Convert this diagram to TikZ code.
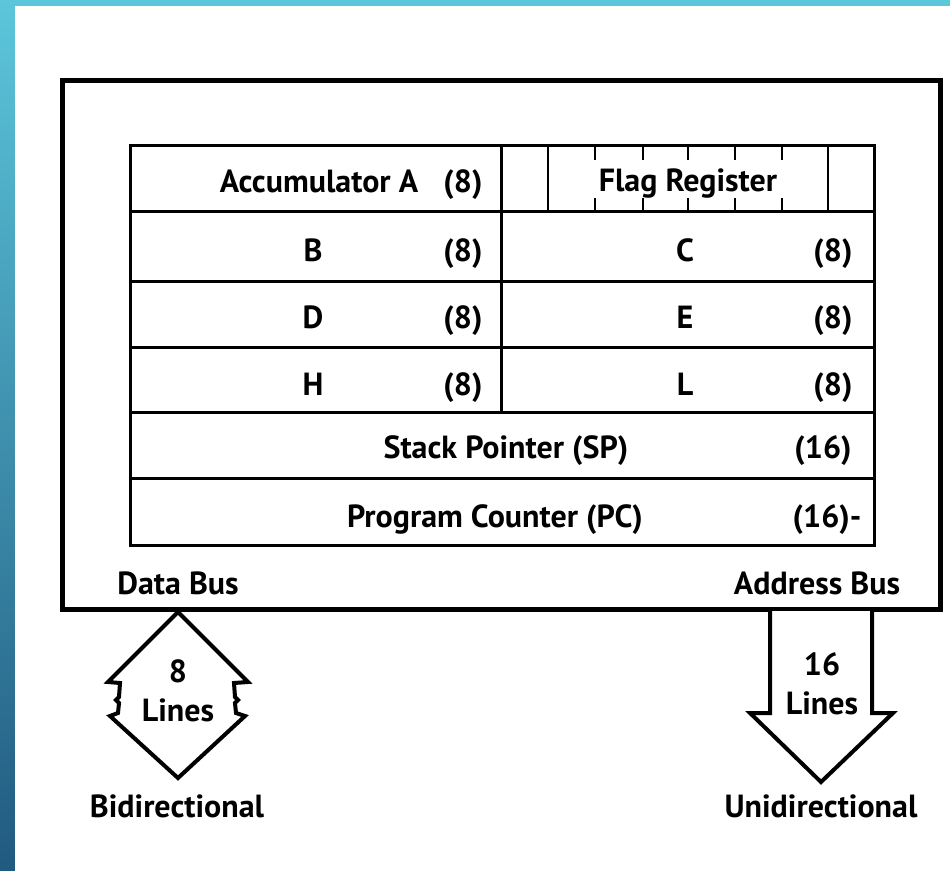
\documentclass[tikz,border=0pt]{standalone}
\usepackage{fontspec}
\setmainfont{PT Sans}
\definecolor{bgtop}{HTML}{5CC6DB}
\definecolor{bgbot}{HTML}{215A80}
\begin{document}
\begin{tikzpicture}[x=1pt,y=-1pt,
  lbl/.style={font=\bfseries\fontsize{32}{34}\selectfont, inner sep=0pt, anchor=base},
  frame/.style={line width=5pt, line join=miter},
  grid/.style={line width=3pt},
  thin/.style={line width=2.5pt},
  bus/.style={line width=4pt, line join=miter, fill=white}]
\useasboundingbox (0,0) rectangle (950,870);
% background
\shade[top color=bgtop, bottom color=bgbot] (0,0) rectangle (950,870);
\fill[white] (15,6) rectangle (955,875);

% outer box
\draw[frame] (62,80) rectangle (940,609);

% register table
\draw[grid] (130,145) rectangle (874,545);
\foreach \yy in {211,281,347,412,478}{\draw[grid] (130,\yy) -- (874,\yy);}
\draw[grid] (501,145) -- (501,412);
\draw[thin] (548,145) -- (548,211);
\draw[thin] (828,145) -- (828,211);
\foreach \xx in {595,643,688,735,782}{
  \draw[thin] (\xx,145) -- (\xx,160);
  \draw[thin] (\xx,198) -- (\xx,211);
}

% texts in table
\node[lbl] (acc)  at (319,192) {Accumulator A};
\node[lbl] (acc8) at (463,192) {(8)};
\node[lbl] (flag) at (688,191) {Flag Register};
\node[lbl] (b)  at (313,261) {B};
\node[lbl] (b8) at (463,261) {(8)};
\node[lbl] (c)  at (685,261) {C};
\node[lbl] (c8) at (833,261) {(8)};
\node[lbl] (d)  at (313,328) {D};
\node[lbl] (d8) at (463,328) {(8)};
\node[lbl] (e)  at (685,328) {E};
\node[lbl] (e8) at (833,328) {(8)};
\node[lbl] (h)  at (313,395) {H};
\node[lbl] (h8) at (463,395) {(8)};
\node[lbl] (l)  at (685,395) {L};
\node[lbl] (l8) at (833,395) {(8)};
\node[lbl] (sp)   at (506,458) {Stack Pointer (SP)};
\node[lbl] (sp16) at (823,458) {(16)};
\node[lbl] (pc)   at (495,527) {Program Counter (PC)};
\node[lbl] (pc16) at (827,527) {(16)-};

% bus labels
\node[lbl] (databus) at (178,594) {Data Bus};
\node[lbl] (addrbus) at (817,594) {Address Bus};

% bidirectional data bus arrow
\draw[bus] (178,612) -- (108,682) -- (120,683) -- (119,697) -- (116,700) -- (119,703)
  -- (118,713) -- (110,716) -- (178,778) -- (245,716) -- (236,713) -- (235,703)
  -- (238,700) -- (235,697) -- (234,683) -- (248,682) -- cycle;
\node[lbl] (eight) at (178,682) {8};
\node[lbl] (dlines) at (178,721) {Lines};
\node[lbl] (bidir) at (177,817) {Bidirectional};

% unidirectional address bus arrow
\draw[bus] (770,611) -- (770,713) -- (750,713) -- (821,782) -- (893,713) -- (872,713) -- (872,611);
\node[lbl] (sixteen) at (822,675) {16};
\node[lbl] (alines) at (822,714) {Lines};
\node[lbl] (unidir) at (821,817) {Unidirectional};
\end{tikzpicture}
\end{document}
